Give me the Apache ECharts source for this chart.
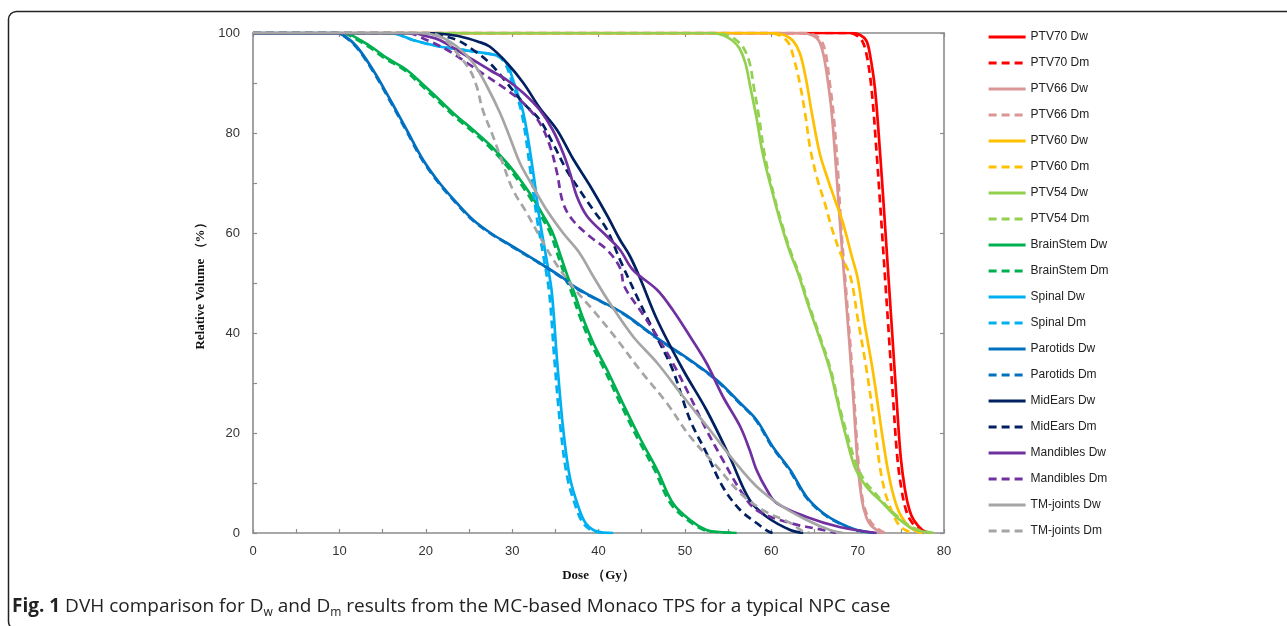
<!DOCTYPE html>
<html><head><meta charset="utf-8">
<script src="https://cdn.jsdelivr.net/npm/echarts@6/dist/echarts.min.js"></script>
<style>html,body{margin:0;padding:0;background:#fff}#c{width:1287px;height:626px}</style>
</head><body><div id="c"></div>
<script>
// ---- data: [dose (Gy), relative volume (%)] ----
const ptv70Dw = [[0,100],[69.5,100],[70.3,99.6],[71,98.5],[71.4,96],[72,89],[72.6,76],[73,66],[73.5,53],[74,40],[74.5,27],[75,15],[75.5,8.5],[76,4.6],[76.5,2.6],[77.5,0.6],[78.5,0]];
const ptv70Dm = [[0,100],[69,100],[69.8,99.6],[70.5,98.5],[71,96],[71.6,89],[72.2,76],[72.6,66],[73.1,53],[73.6,40],[74.1,27],[74.6,15],[75.1,8.5],[75.6,4.6],[76.1,2.6],[77.1,0.6],[78.2,0]];
const ptv66Dw = [[0,100],[63.5,100],[64.8,99.5],[65.5,98.5],[66,96],[66.5,91],[67,84],[67.5,73],[68,61],[68.5,50],[69,39],[69.5,27],[70,14],[70.5,6.5],[71,3.2],[71.5,1.6],[72.5,0.3],[73,0]];
const ptv66Dm = [[0,100],[63.8,100],[65.1,99.5],[65.8,98.5],[66.3,96],[66.7,91],[67.2,84],[67.7,73],[68.1,61],[68.6,50],[69.1,39],[69.6,27],[70.1,14],[70.6,6.5],[71.2,3.2],[71.8,1.6],[72.8,0.3],[73.3,0]];
const ptv60Dw = [[0,100],[60,100],[61.5,99.6],[62.5,98.5],[63.3,96],[64,91],[64.7,84],[65.6,76],[66.5,71],[67.3,67],[68.3,62],[69.3,55.5],[70,51],[70.8,42],[71.8,32],[72.9,19],[73.5,12.6],[74,8.5],[74.5,5.5],[75,3.5],[76,1.2],[77,0.2],[77.5,0]];
const ptv60Dm = [[0,100],[59.5,100],[61,99.5],[62,98],[62.6,95],[63.3,90],[64,83],[64.5,77],[65.3,71],[66.2,66],[67,61],[68,56],[69.2,51],[70,43],[71,33],[72,21],[72.6,13],[73.2,8],[73.7,5.5],[74.3,3],[75,1.2],[76,0.2],[76.5,0]];
const ptv54Dw = [[0,100],[53,100],[54.5,99.5],[55.5,98.5],[56.3,97],[57,94],[57.6,89],[58.3,83],[59,76],[60,69],[61,62.6],[62.2,56],[63.1,52],[64.2,46],[65.6,39],[66.8,32.6],[67.7,26],[68.7,19],[69.6,13.5],[70.5,10.5],[71.4,8.5],[72.9,6],[74,4],[74.9,2.6],[76,1.2],[76.8,0.6],[78.5,0]];
const ptv54Dm = [[0,100],[53.3,100],[55,99.5],[56,98.5],[56.8,97],[57.5,94],[58,89],[58.6,83],[59.2,76],[60.1,69],[61.1,62.6],[62.3,56],[63.2,52],[64.3,46],[65.7,39],[66.9,32.6],[67.8,26],[68.9,19],[69.9,13.5],[71,10],[72,8],[73.3,5.5],[74.5,3.5],[75.5,2],[76.5,1],[77.5,0.4],[79,0]];
const brainStemDw = [[0,100],[10,100],[11.2,99.7],[12.5,98.5],[13.9,97],[15.5,95],[17.8,92.6],[19.5,90],[21.6,86.6],[23.5,83.5],[25.5,80.6],[27.5,77.5],[29.4,74],[31,70.5],[32.4,67],[33.6,63.5],[34.7,60],[35.7,55],[36.5,51],[37.2,48],[38.2,43],[39.4,38],[41,32.6],[42.8,26],[44.8,19],[46.8,12.6],[48.6,6],[50.6,2.6],[52.5,0.6],[54,0.2],[56,0]];
const brainStemDm = [[0,100],[9.8,100],[10.9,99.7],[12.2,98.5],[13.6,97],[15.2,95],[17.5,92.6],[19.2,90],[21.3,86.6],[23.2,83.5],[25.2,80.6],[27.2,77.5],[29.1,74],[30.7,70.5],[32.1,67],[33.3,63.5],[34.4,60],[35.4,55],[36.2,51],[36.9,48],[37.9,43],[39.1,38],[40.7,32.6],[42.5,26],[44.5,19],[46.5,12.6],[48.3,6],[50.3,2.6],[52.2,0.6],[53.7,0.2],[55.5,0]];
const spinalDw = [[0,100],[16,100],[17,99.6],[18.5,98.6],[21.6,97.3],[25.5,96.3],[28.6,95.3],[29.5,93.5],[30.1,90.6],[31.3,84],[32.4,72.6],[33.2,62.6],[34,54.6],[34.6,48],[35.2,34.6],[35.9,21],[36.7,11],[37.8,4.6],[38.5,2],[39.4,0.6],[40.5,0.1],[41.7,0]];
const spinalDm = [[0,100],[16,100],[17,99.6],[18.5,98.6],[21.6,97.3],[25.5,96.3],[28.4,95.3],[29.3,93.5],[29.9,90.6],[31.1,84],[32.1,72.6],[32.9,62.6],[33.7,54.6],[34.3,48],[34.9,34.6],[35.6,21],[36.4,11],[37.5,4.6],[38.2,2],[39.1,0.6],[40.2,0.1],[41.3,0]];
const parotidsDw = [[0,100],[9.5,100],[10.5,99.5],[12,97.3],[13.9,92.6],[15.9,86.6],[17.8,80.6],[19.7,74.6],[21.6,70],[23.6,66],[25.5,62.6],[27.5,60],[29.4,58],[31.3,56],[33.2,54],[35.9,51],[37,49.5],[39,47.5],[42.8,44],[46.8,39],[50.6,34.6],[53.7,30.6],[56.4,26],[58.3,22.6],[60.2,17.2],[62.2,12.6],[64.1,7.2],[66,4],[67.9,2],[69.9,0.6],[72,0]];
const parotidsDm = [[0,100],[9.4,100],[10.4,99.5],[11.9,97.3],[13.8,92.6],[15.8,86.6],[17.7,80.6],[19.6,74.6],[21.5,70],[23.5,66],[25.4,62.6],[27.4,60],[29.3,58],[31.2,56],[33.1,54],[35.8,51],[36.9,49.5],[38.9,47.5],[42.7,44],[46.7,39],[50.5,34.6],[53.6,30.6],[56.3,26],[58.2,22.6],[60.1,17.2],[62.1,12.6],[64,7.2],[65.9,4],[67.8,2],[69.8,0.6],[71.8,0]];
const midEarsDw = [[0,100],[20,100],[22,99.8],[24,99.3],[26,98.3],[27.4,97.3],[29.4,94],[31.3,90],[33.2,85],[35.2,80.6],[37,75],[39,69.5],[41,63.5],[42.5,58.6],[43.6,55.5],[44.8,51],[46.8,42.6],[49.8,32.6],[52.5,24.6],[55.2,15.2],[57.5,6.6],[59.5,3.2],[62.2,0.6],[63.7,0]];
const midEarsDm = [[0,100],[20,100],[21,99.8],[23.6,98.6],[25.5,96.6],[27.4,94],[29.4,90],[31.3,86],[33.2,82.6],[34.7,78],[36.3,72.6],[37.8,68.6],[39.4,64.6],[41,60.6],[42.5,54.6],[44.8,46],[46.8,39],[48.6,32.6],[50.6,22.6],[52.5,16],[54.4,9.2],[56.4,4.6],[58.3,2],[59.8,0.2],[60.5,0]];
const mandiblesDw = [[0,100],[18.5,100],[20,99.4],[21.6,98.6],[23.6,96.6],[25.5,94.6],[27.4,92.6],[29.4,90.6],[31.3,88],[33.2,84.6],[34.7,80.6],[35.9,76],[36.7,72],[37.5,67.3],[38.7,63.3],[41,59.3],[42.5,56.6],[44,52.6],[46.8,48.6],[48.6,44.6],[50.6,39.3],[52.5,34],[54.4,27.3],[56.4,21.3],[57.5,16.6],[58.3,12.6],[59.5,8.6],[60.6,6],[64.1,3.2],[67.9,1.2],[72.2,0]];
const mandiblesDm = [[0,100],[17.8,100],[20.1,98.6],[22.5,96.6],[24.8,94],[27.1,91.3],[29.4,88.6],[31.3,86],[33.2,82],[34.4,77.3],[35.2,72],[35.9,66],[37,62.6],[39,59.3],[41,56.6],[42.5,53],[43,49.3],[44.8,44.6],[46.8,39.3],[48.6,34],[50.6,27.3],[52.5,20.6],[54.4,14.6],[56.4,8.6],[58.3,4.6],[62.2,2],[66,0.6],[67.5,0]];
const tmJointsDw = [[0,100],[19.3,100],[21.6,99.3],[23.6,97.3],[25.5,94],[27.1,89.3],[28.6,84],[29.7,79.3],[30.9,74],[32.4,69.3],[34,64.6],[35.9,60],[37.8,56],[39.4,51.3],[41.3,46],[44,39.3],[46.8,34],[49.8,27.3],[52.9,20.6],[55.6,14.6],[58.3,9.3],[61.3,5.3],[64.1,2.6],[66.8,0.6],[68.3,0]];
const tmJointsDm = [[0,100],[20.5,100],[22.3,98.5],[23.6,96],[25.1,92.6],[25.9,89.3],[26.6,84.6],[27.8,79.3],[28.9,74],[30.1,68.6],[31.7,64],[33.2,59.3],[34.8,54.6],[37,49.3],[39.4,44.5],[42.1,38.8],[44.8,32.6],[47.9,26],[50.6,19.3],[53.7,13.3],[56.4,8],[59,4.6],[62.2,2],[63.7,0.3],[64.5,0]];

const seriesNames = ['PTV70 Dw','PTV70 Dm','PTV66 Dw','PTV66 Dm','PTV60 Dw','PTV60 Dm','PTV54 Dw','PTV54 Dm','BrainStem Dw','BrainStem Dm','Spinal Dw','Spinal Dm','Parotids Dw','Parotids Dm','MidEars Dw','MidEars Dm','Mandibles Dw','Mandibles Dm','TM-joints Dw','TM-joints Dm'];
const seriesData = [ptv70Dw,ptv70Dm,ptv66Dw,ptv66Dm,ptv60Dw,ptv60Dm,ptv54Dw,ptv54Dm,brainStemDw,brainStemDm,spinalDw,spinalDm,parotidsDw,parotidsDm,midEarsDw,midEarsDm,mandiblesDw,mandiblesDm,tmJointsDw,tmJointsDm];
const structureColors = ['#FF0000','#D99694','#FFC000','#92D050','#00B050','#00B0F0','#0070C0','#002060','#7030A0','#A5A5A5'];
const xTicks = [0,10,20,30,40,50,60,70,80];
const yTicks = [0,20,40,60,80,100];

const axisGray = '#8c8c8c';
const labelFont = 'Liberation Sans';

const series = seriesNames.map((name, i) => {
  const dashed = i % 2 === 1;
  const color = structureColors[Math.floor(i / 2)];
  return {
    name, type: 'line', data: seriesData[i], symbol: 'none', smooth: 0.35,
    xAxisIndex: 0, yAxisIndex: 0,
    lineStyle: { color, width: 2.7, type: dashed ? [8, 5] : 'solid', cap: 'butt' },
    itemStyle: { color },
    emphasis: { disabled: true }
  };
});

const chart = echarts.init(document.getElementById('c'));
chart.setOption({
  animation: false,
  backgroundColor: '#fff',
  grid: { left: 253, right: 343, top: 33, bottom: 93 },
  xAxis: [{
    type: 'value', min: xTicks[0], max: xTicks[xTicks.length - 1], interval: xTicks[1] - xTicks[0],
    axisLine: { show: true, onZero: false, lineStyle: { color: axisGray, width: 1.6 } },
    axisTick: { show: true, inside: true, length: 4, lineStyle: { color: axisGray, width: 1.2 } },
    minorTick: { show: true, splitNumber: 2, length: 4, lineStyle: { color: axisGray, width: 1.2 } },
    splitLine: { show: false },
    axisLabel: { margin: 12, fontSize: 13, color: '#333', fontFamily: labelFont },
    name: 'Dose （Gy）', nameLocation: 'middle', nameGap: 36,
    nameTextStyle: { fontFamily: 'Liberation Serif', fontWeight: 'bold', fontSize: 13, color: '#111' }
  }, {
    type: 'value', position: 'top', min: xTicks[0], max: xTicks[xTicks.length - 1], interval: 10,
    axisLine: { show: true, onZero: false, lineStyle: { color: axisGray, width: 1.6 } },
    axisTick: { show: true, inside: true, length: 4, lineStyle: { color: axisGray, width: 1.2 } },
    splitLine: { show: false }, axisLabel: { show: false }
  }],
  yAxis: [{
    type: 'value', min: yTicks[0], max: yTicks[yTicks.length - 1], interval: yTicks[1] - yTicks[0],
    axisLine: { show: true, onZero: false, lineStyle: { color: axisGray, width: 1.6 } },
    axisTick: { show: true, inside: true, length: 4, lineStyle: { color: axisGray, width: 1.2 } },
    minorTick: { show: true, splitNumber: 2, length: 4, lineStyle: { color: axisGray, width: 1.2 } },
    splitLine: { show: false },
    axisLabel: { margin: 13, fontSize: 13, color: '#333', fontFamily: labelFont },
    name: 'Relative Volume （%）', nameLocation: 'middle', nameGap: 35,
    nameTextStyle: { fontFamily: 'Liberation Serif', fontWeight: 'bold', fontSize: 13, color: '#111' }
  }, {
    type: 'value', position: 'right', min: yTicks[0], max: yTicks[yTicks.length - 1], interval: 20,
    axisLine: { show: true, onZero: false, lineStyle: { color: axisGray, width: 1.6 } },
    axisTick: { show: true, inside: true, length: 4, lineStyle: { color: axisGray, width: 1.2 } },
    splitLine: { show: false }, axisLabel: { show: false }
  }],
  legend: {
    orient: 'vertical', left: 982, top: 26, itemWidth: 37, itemHeight: 14, itemGap: 14,
    data: seriesNames, selectedMode: false,
    itemStyle: { opacity: 0 },
    lineStyle: { width: 3.2 },
    textStyle: { fontSize: 12, color: '#222', fontFamily: labelFont }
  },
  graphic: [
    { type: 'rect', silent: true, z: -10,
      shape: { x: 8.5, y: 11.5, width: 1330, height: 618, r: 8 },
      style: { fill: 'none', stroke: '#222', lineWidth: 1.5 } },
    { type: 'text', left: 12, top: 594, silent: true,
      style: {
        text: '{b|Fig. 1} DVH comparison for D{s|w} and D{s|m} results from the MC-based Monaco TPS for a typical NPC case',
        fontSize: 19, fontFamily: 'Open Sans', fill: '#222', lineHeight: 25,
        rich: {
          b: { fontSize: 19, fontFamily: 'Open Sans', fontWeight: 'bold', fill: '#222', lineHeight: 25 },
          s: { fontSize: 12, fontFamily: 'Open Sans', fill: '#222', lineHeight: 14, verticalAlign: 'bottom' }
        }
      } }
  ],
  series
});
</script>
</body></html>
